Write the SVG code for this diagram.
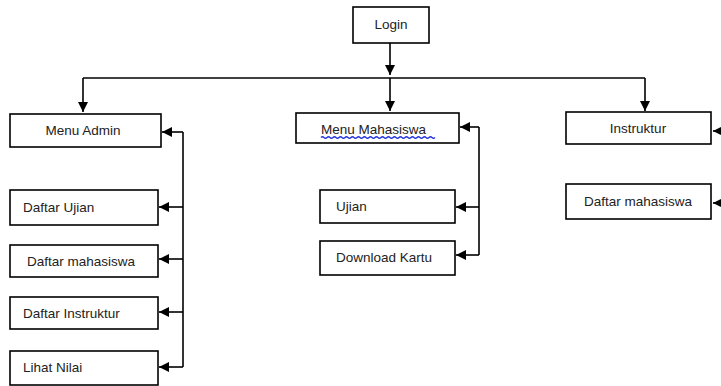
<svg xmlns="http://www.w3.org/2000/svg" width="721" height="386" viewBox="0 0 721 386">
  <defs>
    <marker id="arrow" markerUnits="userSpaceOnUse" markerWidth="11" markerHeight="10" refX="10" refY="5" orient="auto">
      <path d="M0,0 L10,5 L0,10 z" fill="#000"/>
    </marker>
    <style>
      .box { fill: #fff; stroke: #000; stroke-width: 1.6; }
      .lbl { font-family: "Liberation Sans", Arial, sans-serif; font-size: 13.5px; fill: #222; }
      .mid { text-anchor: middle; }
      .con { fill: none; stroke: #000; stroke-width: 1.6; }
      .con-a { fill: none; stroke: #000; stroke-width: 1.6; marker-end: url(#arrow); }
      .spell { fill: none; stroke: #2233dd; stroke-width: 1.4; }
    </style>
  </defs>

  <rect width="721" height="386" fill="#fff"/>

  <!-- connectors -->
  <g id="connectors">
    <path class="con-a" d="M390,43 V75"/>
    <path class="con" d="M83,78 H645"/>
    <path class="con-a" d="M83,78 V112"/>
    <path class="con-a" d="M390,78 V111"/>
    <path class="con-a" d="M645,78 V111"/>

    <!-- admin bus -->
    <path class="con" d="M183,132 V367"/>
    <path class="con-a" d="M183,132 H162"/>
    <path class="con-a" d="M183,207 H159"/>
    <path class="con-a" d="M183,259 H159"/>
    <path class="con-a" d="M183,312 H159"/>
    <path class="con-a" d="M183,367 H159"/>

    <!-- mahasiswa bus -->
    <path class="con" d="M479,127 V255"/>
    <path class="con-a" d="M479,127 H460"/>
    <path class="con-a" d="M479,207 H456"/>
    <path class="con-a" d="M479,255 H456"/>

    <!-- instruktur side -->
    <path class="con-a" d="M730,131 H713"/>
    <path class="con-a" d="M730,203 H713"/>
  </g>

  <g id="login">
    <rect class="box" x="353" y="7" width="76" height="36"/>
    <text class="lbl mid" x="391" y="29">Login</text>
  </g>

  <g id="menu-admin">
    <rect class="box" x="10" y="114" width="151" height="33"/>
    <text class="lbl mid" x="83" y="135">Menu Admin</text>
  </g>
  <g id="daftar-ujian">
    <rect class="box" x="10" y="190" width="148" height="35"/>
    <text class="lbl" x="23" y="212">Daftar Ujian</text>
  </g>
  <g id="daftar-mahasiswa-admin">
    <rect class="box" x="10" y="245" width="148" height="32"/>
    <text class="lbl" x="27" y="266">Daftar mahasiswa</text>
  </g>
  <g id="daftar-instruktur">
    <rect class="box" x="10" y="297" width="148" height="32"/>
    <text class="lbl" x="23" y="318">Daftar Instruktur</text>
  </g>
  <g id="lihat-nilai">
    <rect class="box" x="10" y="351" width="148" height="34"/>
    <text class="lbl" x="23" y="372">Lihat Nilai</text>
  </g>

  <g id="menu-mahasiswa">
    <rect class="box" x="296" y="113" width="163" height="30"/>
    <text class="lbl" x="321" y="134">Menu Mahasiswa</text>
    <path class="spell" d="M321,137.5 q1.5,-1.5 3,0 t3,0 t3,0 t3,0 t3,0 t3,0 t3,0 t3,0 t3,0 t3,0 t3,0 t3,0 t3,0 t3,0 t3,0 t3,0 t3,0 t3,0 t3,0 t3,0 t3,0 t3,0 t3,0 t3,0 t3,0 t3,0 t3,0 t3,0 t3,0 t3,0 t3,0 t3,0 t3,0 t3,0 t3,0 t3,0 t3,0 t3,0"/>
  </g>
  <g id="ujian">
    <rect class="box" x="320" y="190" width="135" height="33"/>
    <text class="lbl" x="336" y="211">Ujian</text>
  </g>
  <g id="download-kartu">
    <rect class="box" x="320" y="241" width="135" height="34"/>
    <text class="lbl" x="336" y="262">Download Kartu</text>
  </g>

  <g id="instruktur">
    <rect class="box" x="566" y="112" width="145" height="32"/>
    <text class="lbl mid" x="638" y="133">Instruktur</text>
  </g>
  <g id="daftar-mahasiswa-instruktur">
    <rect class="box" x="566" y="184" width="145" height="35"/>
    <text class="lbl mid" x="638" y="206">Daftar mahasiswa</text>
  </g>
</svg>
